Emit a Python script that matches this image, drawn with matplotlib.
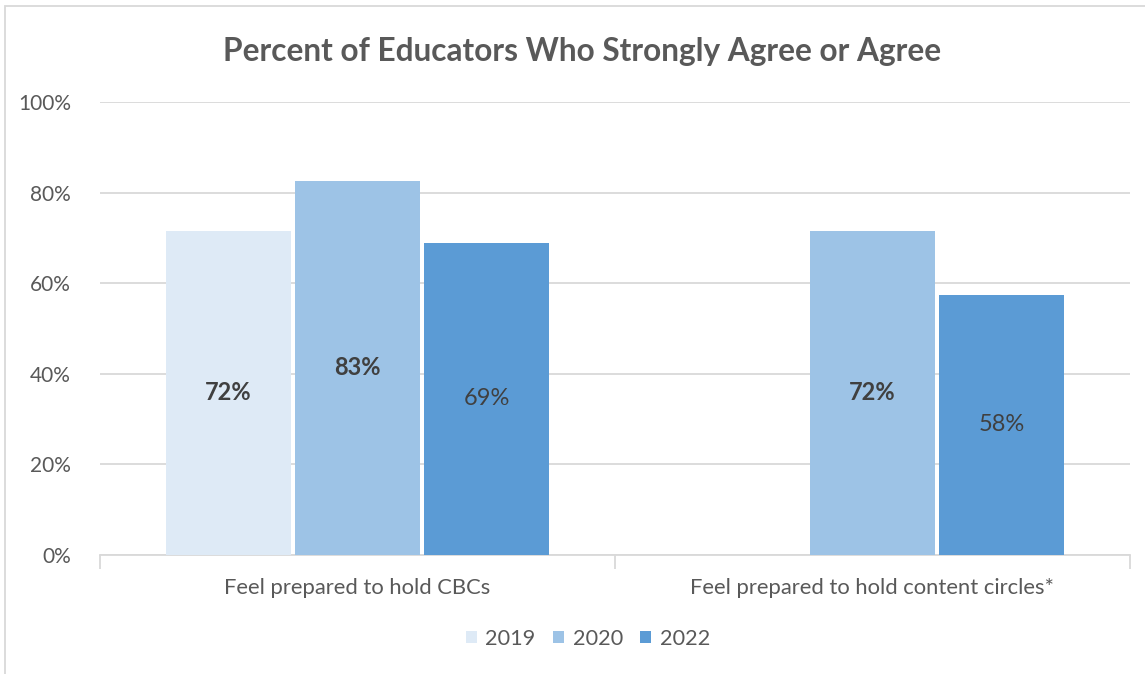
import matplotlib
matplotlib.use("Agg")
import matplotlib.pyplot as plt
import numpy as np
from matplotlib.patches import Rectangle

categories = ["Feel prepared to hold CBCs", "Feel prepared to hold content circles*"]
series_names = ["2019", "2020", "2022"]
values_2019 = [71.6, None]
values_2020 = [82.6, 71.6]
values_2022 = [68.9, 57.5]
labels_2019 = ["72%", ""]
labels_2020 = ["83%", "72%"]
labels_2022 = ["69%", "58%"]
yticks = [0, 20, 40, 60, 80, 100]
ytick_labels = ["0%", "20%", "40%", "60%", "80%", "100%"]

colors = ["#DEEAF6", "#9DC3E6", "#5B9BD5"]
text_color = "#595959"
grid_color = "#D9D9D9"

plt.rcParams['font.family'] = ['Lato', 'DejaVu Sans']

W, H = 1145, 674
fig = plt.figure(figsize=(W/100, H/100), dpi=100)
ax = fig.add_axes([100/W, 1-555/H, 1030/W, (555-102)/H])

x = np.arange(len(categories))
bw = 0.243
gap = 0.008
offsets = [-(bw+gap), 0, (bw+gap)]
all_vals = [values_2019, values_2020, values_2022]
all_labels = [labels_2019, labels_2020, labels_2022]
weights = ["bold", "bold", "normal"]
for i, (vals, labs) in enumerate(zip(all_vals, all_labels)):
    xs, hs, ls = [], [], []
    for j, v in enumerate(vals):
        if v is None:
            continue
        xs.append(x[j] + offsets[i]); hs.append(v); ls.append(labs[j])
    bars = ax.bar(xs, hs, width=bw, color=colors[i], label=series_names[i], zorder=3)
    ax.bar_label(bars, labels=ls, label_type='center', fontsize=17,
                 color="#404040", fontweight=weights[i])

ax.set_xlim(-0.5, 1.5)
ax.set_ylim(0, 100)
ax.set_yticks(yticks)
ax.set_yticklabels(ytick_labels, fontsize=15, color=text_color)
ax.yaxis.grid(True, color=grid_color, linewidth=1.3, zorder=0)
ax.tick_params(axis='y', length=0, pad=21)
ax.set_xticks([-0.5, 0.5, 1.5])
ax.set_xticklabels([])
ax.tick_params(axis='x', length=10, color=grid_color, width=1.3)
for j, c in enumerate(categories):
    ax.text(x[j], -5.0, c, ha='center', va='top', fontsize=15.8, color=text_color,
            transform=ax.transData)
for s in ['top', 'right', 'left']:
    ax.spines[s].set_visible(False)
ax.spines['bottom'].set_color(grid_color)
ax.spines['bottom'].set_linewidth(1.3)

fig.text(582/W, 1-51/H, "Percent of Educators Who Strongly Agree or Agree",
         ha='center', va='center', fontsize=22.8, fontweight='bold', color=text_color)

leg = fig.legend(loc='center', bbox_to_anchor=(588/W, 1-639/H), ncol=3, frameon=False,
                 fontsize=15.6, handlelength=0.5, handleheight=0.5, handletextpad=0.4,
                 columnspacing=0.8, labelcolor=text_color)

fig.patches.append(Rectangle((5/W, -0.1), 1.2, 1-6/H+0.1, transform=fig.transFigure,
                             fill=False, edgecolor="#D9D9D9", linewidth=1.3))

fig.savefig("out.png", dpi=100)
